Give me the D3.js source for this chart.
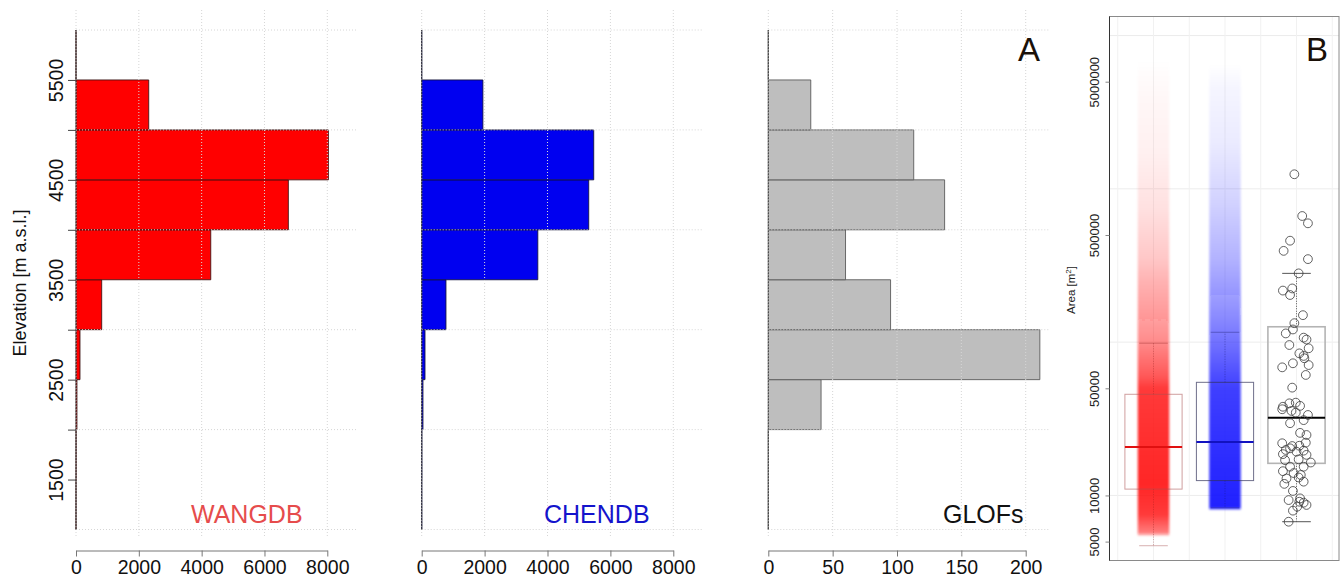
<!DOCTYPE html>
<html>
<head>
<meta charset="utf-8">
<script src="https://cdn.jsdelivr.net/npm/d3@7"></script>
<style>
  body { margin: 0; background: #fff; }
  svg { display: block; font-family: "Liberation Sans", Arial, sans-serif; }
</style>
</head>
<body>
<svg id="chart" width="1341" height="583"></svg>
<script>
// elevation bins (m a.s.l.), 500 m wide
const binEdges = [1000, 1500, 2000, 2500, 3000, 3500, 4000, 4500, 5000, 5500, 6000];
const wangCounts = [0, 3, 30, 127, 818, 4290, 6760, 8035, 2315, 0];
const chenCounts = [2, 5, 40, 105, 772, 3692, 5311, 5470, 1946, 0];
const glofCounts = [0, 0, 41, 211, 95, 60, 137, 113, 33, 0];

const elevTicks = [1500, 2000, 2500, 3000, 3500, 4000, 4500, 5000, 5500];
const elevLabels = [1500, 2500, 3500, 4500, 5500];
const elevGrid = [1000, 2000, 3000, 4000, 5000, 6000];
const lakeTicks = [0, 2000, 4000, 6000, 8000];
const glofTicks = [0, 50, 100, 150, 200];

// panel B: box statistics [lowerWhisker, q1, median, q3, upperWhisker] in m2
const boxNames = ["WANGDB", "CHENDB", "GLOFs"];
const wangBox = [4700, 11000, 20700, 45700, 98400];
const chenBox = [8300, 12500, 22300, 54700, 116000];
const glofBox = [6740, 16200, 32100, 126000, 281000];

// point-cloud density: [area m2, opacity]
const wangDensity = [[5400, 0], [5700, 0.55], [7500, 0.82], [12000, 0.9], [50000, 0.82], [60000, 0.7],
  [100000, 0.5], [150000, 0.4], [250000, 0.3], [350000, 0.22], [750000, 0.12], [1700000, 0.06],
  [4000000, 0.03], [7000000, 0]];
const chenDensity = [[8000, 0], [8300, 0.92], [12000, 0.9], [50000, 0.8], [100000, 0.6], [200000, 0.42],
  [350000, 0.3], [800000, 0.18], [2000000, 0.08], [4500000, 0.04], [6500000, 0]];

// individual GLOF lakes (area m2) with their horizontal jitter (category units)
const glofArea = [1245000, 665000, 596000, 459000, 394000, 348000, 281000, 224000, 217000, 203000,
  150000, 133000, 114000, 121000, 107000, 104000, 95800, 91200, 84500, 81300,
  78500, 72800, 68500, 70900, 61100, 50500, 37900, 36500, 39900, 40300,
  38400, 35600, 34700, 33500, 29600, 31000, 25600, 24800, 21900, 21000,
  21100, 22100, 19800, 20300, 19300, 19600, 18600, 18400, 17000, 17200,
  16400, 15400, 15400, 14400, 14000, 13600, 12900, 13100, 11900, 12300,
  10700, 9570, 9330, 9100, 8970, 8670, 8450, 7960, 6740];
const glofJitter = [-0.03, 0.08, 0.16, -0.09, -0.18, 0.16, 0.03, -0.06, -0.19, -0.09,
  0.09, -0.03, -0.15, -0.05, 0.10, 0.14, -0.10, 0.17, 0.04, 0.10,
  0.11, -0.05, -0.20, 0.17, 0.13, -0.06, -0.19, -0.20, -0.10, -0.01,
  0.05, -0.07, -0.01, 0.16, -0.09, 0.10, 0.05, 0.14, -0.20, -0.06,
  0.04, 0.13, -0.15, -0.09, 0.00, 0.10, -0.19, 0.14, -0.16, 0.03,
  0.20, -0.09, 0.10, -0.19, -0.04, 0.06, -0.14, 0.03, -0.17, 0.10,
  -0.05, 0.05, -0.11, 0.04, 0.10, 0.14, 0.01, -0.05, -0.11];

const areaLabels = [5000, 10000, 50000, 500000, 5000000];
const areaGrid = [10000, 100000, 1000000, 10000000];

const svg = d3.select("#chart");

// ---------- panel A: three horizontal histograms ----------
let yElev = d3.scaleLinear().domain([1000, 6000]).range([529.5, 30]);
let plotTop = 10, plotBottom = 537;

let panels = [
  {counts: wangCounts, x0: 76, x1: 327.3, max: 8000, right: 358, ticks: lakeTicks,
   fill: "#ff0000", stroke: "#3a1010", label: "WANGDB", labelColor: "#e64c4c", labelX: 191},
  {counts: chenCounts, x0: 421.7, x1: 673.3, max: 8000, right: 703, ticks: lakeTicks,
   fill: "#0000f0", stroke: "#10103a", label: "CHENDB", labelColor: "#1414cc", labelX: 544},
  {counts: glofCounts, x0: 768.3, x1: 1025.7, max: 200, right: 1050, ticks: glofTicks,
   fill: "#bebebe", stroke: "#555555", label: "GLOFs", labelColor: "#111111", labelX: 943}
];

panels.forEach(function(p, k) {
  let x = d3.scaleLinear().domain([0, p.max]).range([p.x0, p.x1]);
  let g = svg.append("g");

  // bars as paths so zero-count bins still draw their edge at x = 0
  let bins = p.counts.map(function(c, i) { return {lo: binEdges[i], hi: binEdges[i + 1], n: c}; });
  g.selectAll("path.bar").data(bins).enter().append("path")
    .attr("class", "bar")
    .attr("d", function(d) {
      return "M" + x(0) + "," + yElev(d.lo) + "H" + x(d.n) + "V" + yElev(d.hi) + "H" + x(0) + "Z";
    })
    .style("fill", p.fill)
    .style("stroke", p.stroke)
    .style("stroke-width", 1)
    .style("stroke-opacity", 0.85);

  // dotted grid drawn on top of the bars
  g.selectAll("line.vg").data(p.ticks).enter().append("line")
    .attr("x1", function(d) { return x(d); }).attr("x2", function(d) { return x(d); })
    .attr("y1", plotTop).attr("y2", plotBottom)
    .style("stroke", "#d6d6d6").style("stroke-dasharray", "1,2");
  g.selectAll("line.hg").data(elevGrid).enter().append("line")
    .attr("x1", p.x0).attr("x2", p.right)
    .attr("y1", function(d) { return yElev(d); }).attr("y2", function(d) { return yElev(d); })
    .style("stroke", "#d6d6d6").style("stroke-dasharray", "1,2");

  // zero line left by the empty bins
  g.append("line")
    .attr("x1", x(0)).attr("x2", x(0))
    .attr("y1", yElev(1000)).attr("y2", yElev(6000))
    .style("stroke", "#444").style("stroke-dasharray", "2,1");

  // x axis
  let xa = g.append("g").attr("transform", "translate(0,550.5)")
    .call(d3.axisBottom(x).tickValues(p.ticks).tickSize(6).tickPadding(4).tickSizeOuter(0)
      .tickFormat(d3.format("d")));
  xa.select(".domain").style("stroke", "#777");
  xa.selectAll(".tick line").style("stroke", "#777");
  xa.selectAll(".tick text").style("font-size", "19.5px").style("fill", "#111")
    .style("font-family", "Liberation Sans, Arial, sans-serif");

  g.append("text")
    .attr("x", p.labelX).attr("y", 523)
    .style("font-size", "25px").style("fill", p.labelColor)
    .text(p.label);

  if (k === 0) {
    let ya = g.append("g").attr("transform", "translate(" + x(0) + ",0)")
      .call(d3.axisLeft(yElev).tickValues(elevTicks).tickSize(8).tickFormat(function(d) {
        return elevLabels.indexOf(d) >= 0 ? d : "";
      }));
    ya.select(".domain").remove();
    ya.selectAll(".tick line").style("stroke", "#444");
    ya.selectAll(".tick text")
      .attr("transform", "rotate(-90)")
      .attr("x", 0).attr("y", -13).attr("dy", 0)
      .style("text-anchor", "middle")
      .style("font-size", "19.5px").style("fill", "#111")
      .style("font-family", "Liberation Sans, Arial, sans-serif");

    g.append("text")
      .attr("transform", "translate(26,283) rotate(-90)")
      .style("text-anchor", "middle").style("font-size", "18px").style("fill", "#111")
      .text("Elevation [m a.s.l.]");
  }
});

svg.append("text").attr("x", 1018).attr("y", 61)
  .style("font-size", "33px").style("fill", "#1a1008").text("A");

// ---------- panel B: area box plots ----------
let bx = {left: 1109.5, right: 1339, top: 16.5, bottom: 560.5};
let yArea = d3.scaleLog().domain([5000, 5000000]).range([541.6, 81.7]);
let xCat = d3.scaleLinear().domain([1, 3]).range([1153.5, 1296.5]);
let gb = svg.append("g");

gb.append("clipPath").attr("id", "bclip").append("rect")
  .attr("x", bx.left).attr("y", bx.top).attr("width", bx.right - bx.left).attr("height", bx.bottom - bx.top);

let inner = gb.append("g").attr("clip-path", "url(#bclip)");

inner.selectAll("line.hgB").data(areaGrid).enter().append("line")
  .attr("x1", bx.left).attr("x2", bx.right)
  .attr("y1", function(d) { return yArea(d); }).attr("y2", function(d) { return yArea(d); })
  .style("stroke", "#ececec");
inner.selectAll("line.vgB").data([0.5, 1, 1.5, 2, 2.5, 3, 3.5]).enter().append("line")
  .attr("x1", function(d) { return xCat(d); }).attr("x2", function(d) { return xCat(d); })
  .attr("y1", bx.top).attr("y2", bx.bottom)
  .style("stroke", "#f1f1f1");

// density strips standing in for the thousands of semi-transparent lake points
let defs = svg.append("defs");
defs.append("filter").attr("id", "soft").append("feGaussianBlur").attr("stdDeviation", 1.3);

[[wangDensity, "#ff1010", 1], [chenDensity, "#1010ff", 2]].forEach(function(s, i) {
  let dens = s[0];
  let yTop = yArea(dens[dens.length - 1][0]), yBot = yArea(dens[0][0]);
  let grad = defs.append("linearGradient").attr("id", "dens" + i)
    .attr("gradientUnits", "userSpaceOnUse")
    .attr("x1", 0).attr("x2", 0).attr("y1", yTop).attr("y2", yBot);
  grad.selectAll("stop").data(dens.slice().reverse()).enter().append("stop")
    .attr("offset", function(d) { return (yArea(d[0]) - yTop) / (yBot - yTop); })
    .attr("stop-color", s[1])
    .attr("stop-opacity", function(d) { return d[1]; });
  inner.append("rect")
    .attr("x", xCat(s[2] - 0.22)).attr("width", xCat(s[2] + 0.22) - xCat(s[2] - 0.22))
    .attr("y", yTop).attr("height", yBot - yTop)
    .style("fill", "url(#dens" + i + ")")
    .attr("filter", "url(#soft)");
});

let boxes = [
  {stats: wangBox, pos: 1, box: "rgba(170,80,80,0.55)", med: "#e01010", cap: "rgba(140,30,30,0.35)"},
  {stats: chenBox, pos: 2, box: "rgba(50,50,90,0.7)", med: "#1212c0", cap: "rgba(30,30,110,0.4)"},
  {stats: glofBox, pos: 3, box: "#b4b4b4", med: "#000000", cap: "#555555"}
];

boxes.forEach(function(b) {
  let s = b.stats, c = b.pos;
  // whiskers
  inner.append("line")
    .attr("x1", xCat(c)).attr("x2", xCat(c)).attr("y1", yArea(s[3])).attr("y2", yArea(s[4]))
    .style("stroke", b.cap).style("stroke-dasharray", "1,1.5");
  inner.append("line")
    .attr("x1", xCat(c)).attr("x2", xCat(c)).attr("y1", yArea(s[1])).attr("y2", yArea(s[0]))
    .style("stroke", b.cap).style("stroke-dasharray", "1,1.5");
  [s[0], s[4]].forEach(function(v) {
    inner.append("line")
      .attr("x1", xCat(c - 0.2)).attr("x2", xCat(c + 0.2))
      .attr("y1", yArea(v)).attr("y2", yArea(v))
      .style("stroke", b.cap);
  });
  inner.append("rect")
    .attr("x", xCat(c - 0.4)).attr("width", xCat(c + 0.4) - xCat(c - 0.4))
    .attr("y", yArea(s[3])).attr("height", yArea(s[1]) - yArea(s[3]))
    .style("fill", "none").style("stroke", b.box)
    .style("stroke-width", c === 3 ? 1.6 : 1);
  inner.append("line")
    .attr("x1", xCat(c - 0.4)).attr("x2", xCat(c + 0.4))
    .attr("y1", yArea(s[2])).attr("y2", yArea(s[2]))
    .style("stroke", b.med).style("stroke-width", 2);
});

inner.selectAll("circle.glof").data(glofArea).enter().append("circle")
  .attr("class", "glof")
  .attr("cx", function(d, i) { return xCat(3 + glofJitter[i]); })
  .attr("cy", function(d) { return yArea(d); })
  .attr("r", 4.4)
  .style("fill", "none").style("stroke", "#3a3a3a").style("stroke-width", 0.8);

gb.append("rect")
  .attr("x", bx.left).attr("y", bx.top).attr("width", bx.right - bx.left).attr("height", bx.bottom - bx.top)
  .style("fill", "none").style("stroke", "#8a8a8a");
gb.append("line")
  .attr("x1", bx.left).attr("x2", bx.left).attr("y1", bx.top).attr("y2", bx.bottom)
  .style("stroke", "#333");

let ay = gb.append("g").attr("transform", "translate(" + bx.left + ",0)")
  .call(d3.axisLeft(yArea).tickValues(areaLabels).tickSize(4).tickFormat(d3.format("d")));
ay.select(".domain").remove();
ay.selectAll(".tick line").style("stroke", "#888");
ay.selectAll(".tick text")
  .attr("transform", "rotate(-90)")
  .attr("x", 0).attr("y", -11).attr("dy", 0)
  .style("text-anchor", "middle")
  .style("font-size", "13px").style("fill", "#222")
  .style("font-family", "Liberation Sans, Arial, sans-serif");

let at = gb.append("text")
  .attr("transform", "translate(1075,290) rotate(-90)")
  .style("text-anchor", "middle").style("font-size", "11.5px").style("fill", "#222");
at.append("tspan").text("Area [m");
at.append("tspan").attr("dy", -4).style("font-size", "8px").text("2");
at.append("tspan").attr("dy", 4).text("]");

svg.append("text").attr("x", 1306).attr("y", 61)
  .style("font-size", "33px").style("fill", "#1a1008").text("B");
</script>
</body>
</html>
